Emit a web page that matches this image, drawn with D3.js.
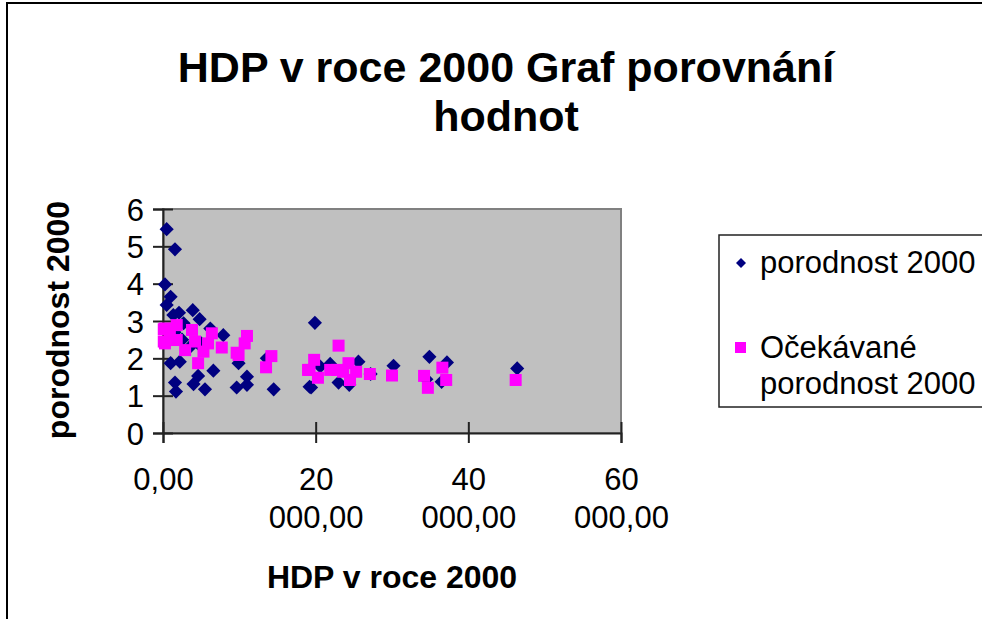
<!DOCTYPE html>
<html>
<head>
<meta charset="utf-8">
<script src="https://cdn.jsdelivr.net/npm/d3@7"></script>
<style>
  body { margin: 0; background: #fff; }
  text { font-family: "Liberation Sans", Arial, sans-serif; fill: #000; }
</style>
</head>
<body>
<div id="chart"></div>
<script>
const F_WIDTH = 982;
const F_HEIGHT = 619;
const PLOT = {left: 163, right: 621, top: 209, bottom: 433};

// porodnost 2000 (diamonds): HDP in USD, birth rate
const GDP_ACTUAL = [480, 1570, 260, 1000, 480, 2100, 3900, 4800, 1350, 7900, 6200,
  1000, 2200, 6600, 9900, 1570, 1700, 4000, 4600, 5500, 9650, 11000, 11000, 14500,
  13600, 19900, 19200, 19400, 20600, 21900, 23000, 24400, 25600, 27200, 30200,
  34900, 37200, 34500, 36500, 46400, 2500, 3500, 1500, 5000, 4600, 2700];
const RATE_ACTUAL = [5.46, 4.92, 3.98, 3.65, 3.43, 3.22, 3.29, 3.05, 3.16, 2.62, 2.8,
  1.87, 1.91, 1.67, 1.87, 1.35, 1.11, 1.31, 1.53, 1.17, 1.22, 1.51, 1.29, 1.17,
  2.0, 2.95, 1.24, 1.22, 1.78, 1.85, 1.35, 1.29, 1.91, 1.58, 1.80,
  2.04, 1.89, 1.44, 1.37, 1.73, 2.5, 2.3, 2.7, 2.4, 2.4, 2.94];

// Očekávané porodnost 2000 (squares)
const GDP_EXPECTED = [260, 260, 1800, 1800, 2900, 3800, 4200, 4600, 5300, 6400, 5900,
  7700, 11000, 10700, 9650, 9900, 14200, 13500, 19000, 900, 100, 100,
  23000, 19800, 19200, 20300, 21900, 22800, 23600, 24300, 24500, 25300, 27100,
  30000, 34200, 34700, 36600, 37100, 46200];
const RATE_EXPECTED = [2.8, 2.4, 2.89, 2.49, 2.22, 2.76, 2.45, 1.87, 2.18, 2.67, 2.4,
  2.29, 2.6, 2.4, 2.15, 2.09, 2.06, 1.76, 1.69, 2.67, 2.78, 2.45,
  2.34, 1.96, 1.69, 1.48, 1.69, 1.69, 1.64, 1.87, 1.42, 1.64, 1.58,
  1.54, 1.53, 1.21, 1.75, 1.42, 1.42];

const X_TICKS = [0, 20000, 40000, 60000];
const X_TICK_LABELS = ["0,00", "20 000,00", "40 000,00", "60 000,00"];
const Y_TICKS = [0, 1, 2, 3, 4, 5, 6];

const TITLE_LINES = ["HDP v roce 2000 Graf porovnání", "hodnot"];
const SERIES_NAMES = ["porodnost 2000", "Očekávané porodnost 2000"];

const svg = d3.select("#chart")
  .append("svg")
    .attr("width", F_WIDTH)
    .attr("height", F_HEIGHT);

// chart frame
svg.append("rect")
  .attr("x", 7).attr("y", 3)
  .attr("width", 1000).attr("height", 650)
  .attr("fill", "#fff")
  .attr("stroke", "#000")
  .attr("stroke-width", 2);

const X_SCALE = d3.scaleLinear().domain([0, 60000]).range([PLOT.left, PLOT.right]);
const Y_SCALE = d3.scaleLinear().domain([0, 6]).range([PLOT.bottom, PLOT.top]);

// plot area
svg.append("rect")
  .attr("x", PLOT.left).attr("y", PLOT.top)
  .attr("width", PLOT.right - PLOT.left)
  .attr("height", PLOT.bottom - PLOT.top)
  .attr("fill", "#c0c0c0")
  .attr("stroke", "#808080")
  .attr("stroke-width", 2);

// title
svg.append("text")
  .attr("x", 506).attr("y", 82)
  .attr("text-anchor", "middle")
  .attr("font-size", 43).attr("font-weight", "bold")
  .selectAll("tspan")
  .data(TITLE_LINES)
  .enter()
  .append("tspan")
    .attr("x", 506)
    .attr("dy", (d, i) => i === 0 ? 0 : 49)
    .text(d => d);

// y axis
const yAxis = svg.append("g")
  .attr("transform", "translate(" + PLOT.left + ",0)")
  .call(d3.axisLeft(Y_SCALE).tickValues(Y_TICKS).tickSize(10).tickPadding(9).tickFormat(d3.format("d")));
yAxis.select(".domain").attr("stroke", "#222").attr("stroke-width", 2);
yAxis.selectAll(".tick line").attr("x1", 10).attr("stroke", "#222").attr("stroke-width", 2);
yAxis.selectAll(".tick text")
  .attr("font-size", 31).attr("font-family", "Liberation Sans, Arial, sans-serif")
  .attr("dy", "0.36em");

// x axis
const xAxis = svg.append("g")
  .attr("transform", "translate(0," + PLOT.bottom + ")")
  .call(d3.axisBottom(X_SCALE).tickValues(X_TICKS).tickSize(10).tickFormat(""));
xAxis.select(".domain").attr("stroke", "#222").attr("stroke-width", 2);
xAxis.selectAll(".tick line").attr("y1", -11).attr("stroke", "#222").attr("stroke-width", 2);
xAxis.selectAll(".tick")
  .append("text")
    .attr("y", 57)
    .attr("text-anchor", "middle")
    .attr("font-size", 31)
    .attr("font-family", "Liberation Sans, Arial, sans-serif")
    .selectAll("tspan")
    .data((d, i) => X_TICK_LABELS[i].split(" "))
    .enter()
    .append("tspan")
      .attr("x", 0)
      .attr("dy", (d, i) => i === 0 ? 0 : 38)
      .text(d => d);

// axis titles
svg.append("text")
  .attr("x", 392).attr("y", 588)
  .attr("text-anchor", "middle")
  .attr("font-size", 32).attr("font-weight", "bold")
  .text("HDP v roce 2000");

svg.append("text")
  .attr("transform", "translate(69,320) rotate(-90)")
  .attr("text-anchor", "middle")
  .attr("font-size", 32).attr("font-weight", "bold")
  .text("porodnost 2000");

const diamond = d3.symbol().type(d3.symbolSquare).size(100);

// series 1: diamonds
svg.selectAll(".actual")
  .data(GDP_ACTUAL)
  .enter()
  .append("path")
    .attr("class", "actual")
    .attr("d", diamond)
    .attr("transform", (d, i) => "translate(" + X_SCALE(d) + "," + Y_SCALE(RATE_ACTUAL[i]) + ") rotate(45)")
    .attr("fill", "#000080");

// series 2: squares
svg.selectAll(".expected")
  .data(GDP_EXPECTED)
  .enter()
  .append("rect")
    .attr("class", "expected")
    .attr("x", d => X_SCALE(d) - 6)
    .attr("y", (d, i) => Y_SCALE(RATE_EXPECTED[i]) - 6)
    .attr("width", 12).attr("height", 12)
    .attr("fill", "#ff00ff");

// legend
const legend = svg.append("g");
legend.append("rect")
  .attr("x", 719).attr("y", 235)
  .attr("width", 300).attr("height", 172)
  .attr("fill", "#fff")
  .attr("stroke", "#222")
  .attr("stroke-width", 1.5);

legend.append("path")
  .attr("d", d3.symbol().type(d3.symbolSquare).size(50))
  .attr("transform", "translate(741,263) rotate(45)")
  .attr("fill", "#000080");
legend.append("text")
  .attr("x", 760).attr("y", 273)
  .attr("font-size", 31)
  .text(SERIES_NAMES[0]);

legend.append("rect")
  .attr("x", 735).attr("y", 342)
  .attr("width", 11).attr("height", 11)
  .attr("fill", "#ff00ff");
legend.append("text")
  .attr("x", 760).attr("y", 358)
  .attr("font-size", 31)
  .selectAll("tspan")
  .data(["Očekávané", "porodnost 2000"])
  .enter()
  .append("tspan")
    .attr("x", 760)
    .attr("dy", (d, i) => i === 0 ? 0 : 36)
    .text(d => d);
</script>
</body>
</html>
